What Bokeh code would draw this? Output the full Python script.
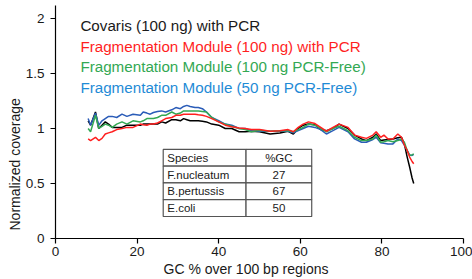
from bokeh.plotting import figure
from bokeh.models import Range1d, ColumnDataSource, Title, FixedTicker
from bokeh.core.properties import value
from bokeh.embed import file_html
from bokeh.resources import INLINE

# ---- data ----
gc = [8, 8.6, 9.8, 10.6, 11.4, 12.2, 13, 13.9, 15, 16.3, 17.5, 19, 20.8, 21.5, 22.4, 23.2,
      24, 25, 26, 27, 28.5, 29.5, 30.6, 31.4, 32.2, 33, 34.2, 35, 36, 37, 38.3, 40, 41.6,
      43.2, 45, 46.5, 48, 50, 52.6, 55, 57, 58.3, 59.5, 60.7, 62, 63.6, 65, 66.4, 68, 69.5,
      71.7, 73.3, 75, 76.2, 77.8, 78.6, 79.7, 80.5, 81.5, 82.7, 83.9, 84.8, 85.5, 86.2,
      86.8, 87.4, 87.8]

covaris_pcr = [1.07, 1.03, 1.15, 1.0, 1.03, 1.06, 1.04, 1.01, 1.01, 1.01, 1.03, 1.03, 1.03,
               1.04, 1.04, 1.04, 1.04, 1.04, 1.06, 1.05, 1.08, 1.08, 1.07, 1.09, 1.08, 1.07,
               1.07, 1.07, 1.065, 1.06, 1.04, 1.03, 1.0, 1.0, 0.97, 0.97, 0.975, 0.97, 0.95,
               0.96, 0.975, 0.95, 1.0, 1.03, 1.04, 1.035, 0.99, 0.98, 1.0, 1.04, 1.0, 0.94,
               0.905, 0.89, 0.92, 0.95, 0.89, 0.895, 0.9, 0.905, 0.915, 0.92, 0.86, 0.74,
               0.65, 0.55, 0.5]

fm_100_pcr = [0.905, 0.89, 0.92, 0.89, 0.91, 0.95, 0.96, 0.97, 0.99, 1.0, 1.01, 1.01, 1.04,
              1.035, 1.03, 1.04, 1.04, 1.05, 1.07, 1.09, 1.1, 1.12, 1.12, 1.13, 1.13, 1.13,
              1.13, 1.125, 1.12, 1.11, 1.09, 1.06, 1.03, 1.015, 1.005, 1.0, 0.99, 0.99, 0.975,
              0.98, 0.99, 0.97, 1.01, 1.04, 1.06, 1.045, 1.01, 0.975, 1.01, 1.04, 1.01, 0.94,
              0.92, 0.91, 0.94, 0.97, 0.92, 0.94, 0.905, 0.905, 0.95, 0.92, 0.85, 0.8, 0.74,
              0.7, 0.68]

fm_100_pcrfree = [1.0, 0.97, 1.12, 1.0, 1.02, 1.04, 1.03, 1.01, 1.04, 1.06, 1.04, 1.07, 1.06,
                  1.07, 1.09, 1.09, 1.09, 1.1, 1.12, 1.12, 1.15, 1.13, 1.14, 1.16, 1.16, 1.16,
                  1.16, 1.16, 1.155, 1.15, 1.1, 1.06, 1.04, 1.02, 1.0, 0.99, 0.97, 0.985, 0.975,
                  0.98, 0.98, 0.97, 0.99, 1.01, 1.04, 1.03, 1.0, 0.97, 1.0, 1.02, 0.98, 0.92,
                  0.89, 0.89, 0.905, 0.94, 0.875, 0.88, 0.89, 0.88, 0.89, 0.905, 0.875, 0.8,
                  0.755, 0.76, 0.77]

fm_50_pcrfree = [1.09, 1.03, 1.14, 1.03, 1.07, 1.09, 1.11, 1.11, 1.1, 1.13, 1.11, 1.13, 1.12,
                 1.15, 1.14, 1.13, 1.145, 1.155, 1.16, 1.15, 1.17, 1.19, 1.18, 1.2, 1.21, 1.2,
                 1.19, 1.19, 1.18, 1.15, 1.1, 1.07, 1.04, 1.03, 1.0, 1.0, 0.98, 0.975, 0.975,
                 0.975, 0.975, 0.96, 0.98, 1.0, 1.02, 1.01, 0.99, 0.95, 0.98, 1.01, 0.97, 0.905,
                 0.875, 0.875, 0.9, 0.92, 0.87, 0.865, 0.86, 0.86, 0.905, 0.89, 0.85, 0.8,
                 0.76, 0.755, 0.765]

series_names = ["Covaris (100 ng) with PCR",
                "Fragmentation Module (100 ng) with PCR",
                "Fragmentation Module (100 ng PCR-Free)",
                "Fragmentation Module (50 ng PCR-Free)"]

species = ["Species", "F.nucleatum", "B.pertussis", "E.coli"]
pct_gc = ["%GC", "27", "67", "50"]

x_ticks = [0, 20, 40, 60, 80, 100]
y_ticks = [0, 0.5, 1, 1.5, 2]

# ---- styles ----
FONT = "Liberation Sans"
line_colors = ["#000000", "#ff1f1f", "#33a853", "#2a5cb8"]
text_colors = ["#1a1a1a", "#ff1f1f", "#33a853", "#1f8bd6"]

p = figure(width=472, height=279, output_backend="svg", toolbar_location=None,
           x_range=Range1d(0, 100), y_range=Range1d(0, 2.118),
           min_border_left=55, min_border_right=9, min_border_top=5, min_border_bottom=41)
p.outline_line_color = None
p.grid.visible = False
p.background_fill_color = "white"

for ax, ticks in ((p.xaxis[0], x_ticks), (p.yaxis[0], y_ticks)):
    ax.ticker = FixedTicker(ticks=ticks)
    ax.minor_tick_line_color = None
    ax.major_tick_in = 0
    ax.major_tick_out = 5
    ax.axis_line_color = "black"
    ax.axis_line_width = 1.2
    ax.major_tick_line_color = "black"
    ax.major_tick_line_width = 1.2
    ax.major_label_text_font = FONT
    ax.major_label_text_font_size = "13.5px"
    ax.major_label_text_color = "#1a1a1a"
p.xaxis.major_label_standoff = 3
p.yaxis.major_label_standoff = 6
p.yaxis.major_label_overrides = {0: "0", 0.5: "0.5", 1: "1", 1.5: "1.5", 2: "2"}

# lines (drawn back to front)
all_series = [covaris_pcr, fm_100_pcr, fm_100_pcrfree, fm_50_pcrfree]
for idx in [0, 3, 2, 1]:
    p.line(gc, all_series[idx], line_color=line_colors[idx], line_width=1.5)

# legend texts
leg_y0 = 1.936
leg_dy = 0.188
leg_src = ColumnDataSource(dict(x=[6.1] * 4, y=[leg_y0 - i * leg_dy for i in range(4)],
                                t=series_names, c=text_colors))
p.text(x="x", y="y", text="t", text_color="c", source=leg_src,
       text_font=value(FONT), text_font_size="15.2px", text_baseline="middle",
       text_align="left")

# table
tx0, tx1, tx2 = 26.4, 46.7, 62.8
ty_top, ty_bot = 0.81, 0.2
n = len(species)
rh = (ty_top - ty_bot) / n
tops = [ty_top - i * rh for i in range(n)]
bots = [t - rh for t in tops]
p.quad(left=[tx0] * n, right=[tx1] * n, top=tops, bottom=bots,
       fill_color="white", line_color="#555555", line_width=1.2)
p.quad(left=[tx1] * n, right=[tx2] * n, top=tops, bottom=bots,
       fill_color="white", line_color="#555555", line_width=1.2)
mids = [t - rh / 2 for t in tops]
p.text(x=[tx0 + 1.0] * n, y=mids, text=species, text_font=value(FONT),
       text_font_size="11.5px", text_baseline="middle", text_align="left",
       text_color="#1a1a1a")
p.text(x=[(tx1 + tx2) / 2] * n, y=mids, text=pct_gc, text_font=value(FONT),
       text_font_size="11.5px", text_baseline="middle", text_align="center",
       text_color="#1a1a1a")

# axis titles
p.add_layout(Title(text="GC % over 100 bp regions", align="left", offset=108,
                   text_font=FONT, text_font_size="14px", text_font_style="normal",
                   text_color="#1a1a1a", standoff=0), "below")
p.add_layout(Title(text="Normalized coverage", align="left", offset=8,
                   text_font=FONT, text_font_size="14px", text_font_style="normal",
                   text_color="#1a1a1a", standoff=0), "left")

open("out.html", "w").write(file_html(p, INLINE))
